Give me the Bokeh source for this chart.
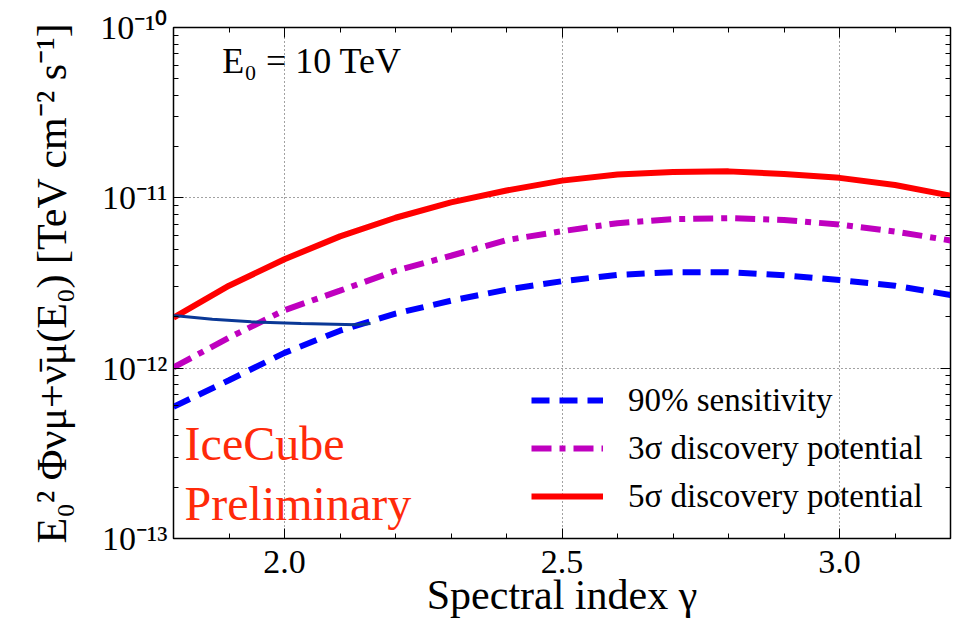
import numpy as np
from bokeh.plotting import figure
from bokeh.models import (FixedTicker, LinearAxis, LogAxis, CustomJSTickFormatter,
                          Label, Legend, LegendItem, Range1d)
from bokeh.embed import file_html
from bokeh.resources import INLINE

# ---- data ----
gamma = [1.8, 1.9, 2.0, 2.1, 2.2, 2.3, 2.4, 2.5, 2.6, 2.7, 2.8, 2.9, 3.0, 3.1, 3.2]
sens90 = [5.93e-13, 8.5e-13, 1.23e-12, 1.66e-12, 2.09e-12, 2.49e-12, 2.89e-12, 3.24e-12,
          3.53e-12, 3.66e-12, 3.66e-12, 3.51e-12, 3.29e-12, 3.05e-12, 2.69e-12]
disc3 = [1.01e-12, 1.51e-12, 2.19e-12, 2.85e-12, 3.73e-12, 4.57e-12, 5.65e-12, 6.37e-12,
         7.1e-12, 7.5e-12, 7.6e-12, 7.41e-12, 6.97e-12, 6.34e-12, 5.62e-12]
disc5 = [1.98e-12, 3.05e-12, 4.36e-12, 5.94e-12, 7.64e-12, 9.4e-12, 1.104e-11, 1.262e-11,
         1.37e-11, 1.42e-11, 1.43e-11, 1.38e-11, 1.31e-11, 1.19e-11, 1.03e-11]
# overlaid dark-blue curve
curve_x = [1.49, 1.57, 1.67, 1.75, 1.8, 1.87, 1.94, 2.03, 2.13, 2.155]
curve_y = [3.04e-12, 2.75e-12, 2.42e-12, 2.18e-12, 2.04e-12, 1.94e-12, 1.87e-12, 1.83e-12, 1.80e-12, 1.83e-12]

x_major = [2.0, 2.5, 3.0]
x_tick_labels = ["2.0", "2.5", "3.0"]
x_minor = [1.8, 1.9, 2.0, 2.1, 2.2, 2.3, 2.4, 2.5, 2.6, 2.7, 2.8, 2.9, 3.0, 3.1, 3.2]
y_major = [1e-13, 1e-12, 1e-11, 1e-10]
y_tick_labels = ["10⁻¹³", "10⁻¹²", "10⁻¹¹", "10⁻¹⁰"]
legend_labels = ["90% sensitivity", "3σ discovery potential", "5σ discovery potential"]

FONT = "Liberation Serif"

p = figure(width=953, height=620, x_axis_type="linear", y_axis_type="log",
           x_range=Range1d(1.8, 3.2), y_range=Range1d(1e-13, 1e-10),
           output_backend="svg", toolbar_location=None,
           min_border_left=173, min_border_right=3, min_border_top=27, min_border_bottom=77,
           x_axis_label="Spectral index γ",
           y_axis_label="E₀² Φνμ+ν̄μ(E₀) [TeV cm⁻² s⁻¹]")
p.outline_line_color = "black"
p.outline_line_width = 1.5

y_minor = [k * 10.0 ** e for e in (-13, -12, -11) for k in range(2, 10)]

xt = FixedTicker(ticks=x_major, minor_ticks=x_minor)
yt = FixedTicker(ticks=y_major, minor_ticks=y_minor)

xlab_fmt = CustomJSTickFormatter(args=dict(labels=x_tick_labels, majors=x_major),
                                 code="""
let best = 0;
for (let i = 0; i < majors.length; i++) {
  if (Math.abs(majors[i] - tick) < Math.abs(majors[best] - tick)) best = i;
}
return labels[best];""")
ylab_fmt = CustomJSTickFormatter(args=dict(labels=y_tick_labels),
                                 code="return labels[Math.round(Math.log10(tick)) + 13];")
empty_fmt = CustomJSTickFormatter(code="return '';")

def style_axis(ax, ticker):
    ax.ticker = ticker
    ax.major_tick_in = 10
    ax.major_tick_out = 0
    ax.minor_tick_in = 5
    ax.minor_tick_out = 0
    ax.axis_line_color = "black"
    ax.major_tick_line_color = "black"
    ax.minor_tick_line_color = "black"
    ax.major_label_text_font = FONT
    ax.axis_label_text_font = FONT
    ax.axis_label_text_font_style = "normal"
    ax.major_label_text_color = "black"
    ax.axis_label_text_color = "black"

xa = p.xaxis[0]
style_axis(xa, xt)
xa.formatter = xlab_fmt
xa.major_label_text_font_size = "34px"
xa.axis_label_text_font_size = "42px"
xa.major_label_standoff = 12
xa.axis_label_standoff = -4

ya = p.yaxis[0]
style_axis(ya, yt)
ya.formatter = ylab_fmt
ya.major_label_text_font_size = "34px"
ya.axis_label_text_font_size = "42px"
ya.major_label_standoff = 6
ya.axis_label_standoff = 22

top = LinearAxis(formatter=empty_fmt)
style_axis(top, xt)
p.add_layout(top, "above")
right = LogAxis(formatter=empty_fmt)
style_axis(right, yt)
p.add_layout(right, "right")

p.xgrid.grid_line_color = "#444444"
p.xgrid.grid_line_dash = "1 3"
p.xgrid.grid_line_width = 1
p.ygrid.grid_line_color = "#444444"
p.ygrid.grid_line_dash = "1 3"
p.ygrid.grid_line_width = 1

r1 = p.line(gamma, sens90, line_color="#0000ff", line_width=6, line_dash="18 10")
r2 = p.line(gamma, disc3, line_color="#bf00bf", line_width=6, line_dash="20 8 6 8")
r3 = p.line(gamma, disc5, line_color="#ff0000", line_width=6)
p.line(curve_x, curve_y, line_color="#0a3896", line_width=3)

legend = Legend(items=[LegendItem(label=legend_labels[0], renderers=[r1]),
                       LegendItem(label=legend_labels[1], renderers=[r2]),
                       LegendItem(label=legend_labels[2], renderers=[r3])],
                location=(358, 22))
legend.border_line_color = None
legend.background_fill_alpha = 0
legend.label_text_font = FONT
legend.label_text_font_size = "33px"
legend.label_text_color = "black"
legend.glyph_width = 72
legend.glyph_height = 40
legend.spacing = 8
legend.label_standoff = 25
legend.padding = 0
legend.margin = 0
p.add_layout(legend, "center")

p.add_layout(Label(x=1.888, y=6.35e-11, text="E₀ = 10 TeV", text_font=FONT,
                   text_font_size="36px", text_color="black", text_baseline="alphabetic"))
p.add_layout(Label(x=1.82, y=3.62e-13, text="IceCube", text_font=FONT,
                   text_font_size="48px", text_color="#ff2a0a", text_baseline="alphabetic"))
p.add_layout(Label(x=1.82, y=1.6e-13, text="Preliminary", text_font=FONT,
                   text_font_size="48px", text_color="#ff2a0a", text_baseline="alphabetic"))

open("out.html", "w").write(file_html(p, INLINE))
